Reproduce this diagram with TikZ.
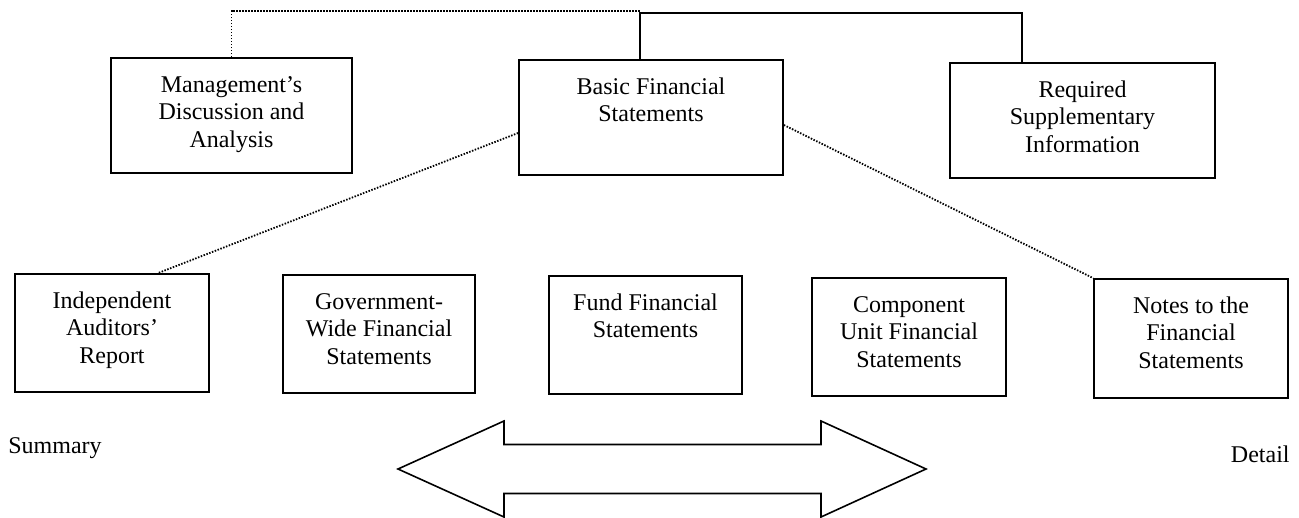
\documentclass[tikz,border=0pt]{standalone}
\usepackage{fontspec}
\setmainfont{Liberation Serif}
\usetikzlibrary{calc}

% box content: width, height, centred lines hanging from the top edge
\newcommand\boxtxt[3]{\parbox[c][#2][t]{#1}{\centering\rule{0pt}{17.2pt}#3}}

\tikzset{
  panel/.style={draw, line width=0.9pt, inner sep=0pt,
                font=\fontsize{12pt}{13.75pt}\selectfont},
  caption/.style={inner sep=0pt, font=\fontsize{12pt}{13.75pt}\selectfont},
  dotline/.style={line width=0.9pt, dash pattern=on 0.75pt off 0.75pt},
  solidline/.style={line width=0.7pt},
  blockarrow/.style={line width=0.8pt, line join=miter}
}

\begin{document}
\begin{tikzpicture}[x=0.5pt, y=-0.5pt]
  \useasboundingbox (0,0) rectangle (1299,518);

  % upper row
  \node[panel] (mda) at (231.5,115.5)
    {\boxtxt{120.5pt}{57.5pt}{Management’s\\Discussion and\\Analysis}};
  \node[panel] (bfs) at (651,117.5)
    {\boxtxt{132pt}{57.5pt}{Basic Financial\\Statements}};
  \node[panel] (rsi) at (1082.5,120.5)
    {\boxtxt{132.5pt}{57.5pt}{Required\\Supplementary\\Information}};

  % lower row
  \node[panel] (iar) at (112,333)
    {\boxtxt{97pt}{59pt}{Independent\\Auditors’\\Report}};
  \node[panel] (gwfs) at (379,334)
    {\boxtxt{96pt}{59pt}{Government-\\Wide Financial\\Statements}};
  \node[panel] (ffs) at (645.5,335)
    {\boxtxt{96.5pt}{59pt}{Fund Financial\\Statements}};
  \node[panel] (cufs) at (909,337)
    {\boxtxt{97pt}{59pt}{Component\\Unit Financial\\Statements}};
  \node[panel] (notes) at (1191,338.5)
    {\boxtxt{97pt}{59.5pt}{Notes to the\\Financial\\Statements}};

  % side captions
  \node[caption, anchor=base west] (summary) at (8,453) {Summary};
  \node[caption, anchor=base east] (detail) at (1290,462) {Detail};

  % top bracket joining the upper row
  \coordinate (hub) at (640,11);
  \coordinate (hubs) at (640,13);
  \coordinate (rsijoin) at (1022,13);
  \draw[dotline] (mda.north) -- (mda.north |- hub) -- (hub);
  \draw[solidline] (hubs |- bfs.north) -- (hubs) -- (rsijoin) -- (rsijoin |- rsi.north);

  % dotted links fanning out from the basic statements
  \draw[dotline] ($(bfs.west)+(0,15.5)$) -- ($(iar.north)+(46,0)$);
  \draw[dotline] ($(bfs.east)+(0,7.5)$) -- (notes.north west);

  % double-headed block arrow
  \draw[blockarrow] (398,469) -- (504,421) -- (504,444.5) -- (821,444.5)
    -- (821,421) -- (926,469) -- (821,517) -- (821,493.5) -- (504,493.5)
    -- (504,517) -- cycle;
\end{tikzpicture}
\end{document}
